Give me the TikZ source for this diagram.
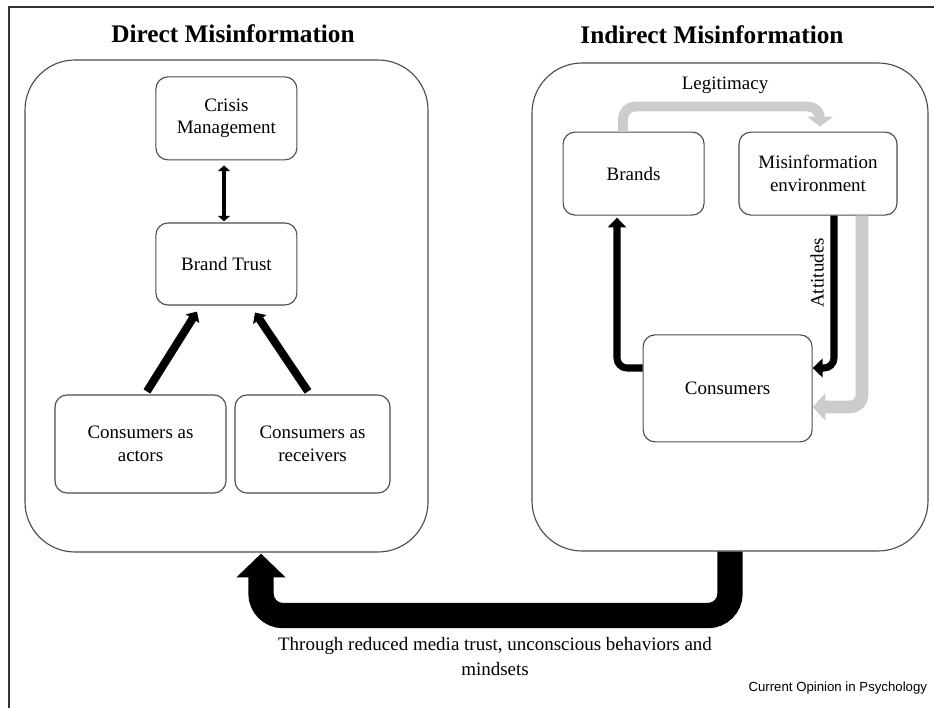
\documentclass[tikz,border=0pt]{standalone}
\usepackage{fontspec}
\setmainfont{Liberation Serif}
\newfontfamily\sourcefont{Liberation Sans}
\usepackage{tikz}
\usetikzlibrary{arrows.meta,calc}

\begin{document}
\begin{tikzpicture}[-, small box/.style={rectangle, rounded corners=0.3cm, draw=black!70, line width=0.8pt, align=center, inner sep=0pt, font=\fontsize{13.5}{16}\selectfont}, big box/.style={rectangle, rounded corners=1.25cm, draw=black!70, line width=0.8pt, inner sep=0pt}, title/.style={font=\bfseries\fontsize{18}{22}\selectfont}, label text/.style={font=\fontsize{13.5}{17.5}\selectfont, align=center}, fat arrow/.style={line width=5.7pt, -{Triangle[width=11pt,length=6pt]}}, black arrow/.style={line width=5pt, rounded corners=0.25cm, -{Triangle[width=13pt,length=7pt]}}, gray arrow/.style={black!20, line width=7pt, rounded corners=0.3cm, -{Triangle[width=18pt,length=7pt]}}, huge arrow/.style={line width=18pt, rounded corners=0.55cm, -{Triangle[width=34pt,length=17pt]}}]
\useasboundingbox (0,0) rectangle (23.35,17.7);
\draw [line width=1.2pt, black!80] (0.225,0) -- (0.225,17.525) -- (23.35,17.525);
\node[title] (t1) at (5.825,16.85) {Direct Misinformation};
\node[title] (t2) at (17.8,16.825) {Indirect Misinformation};
\node[big box, minimum width=10.075cm, minimum height=12.3cm] (direct) at (5.6625,10.05) {};
\node[big box, minimum width=9.9cm, minimum height=12.2cm] (indirect) at (18.25,10.025) {};
\node[small box, minimum width=3.525cm, minimum height=2.075cm] (crisis) at (5.66,14.74) {Crisis\\Management};
\node[small box, minimum width=3.525cm, minimum height=2.05cm] (trust) at (5.66,11.1) {Brand Trust};
\node[small box, minimum width=4.275cm, minimum height=2.45cm] (actors) at (3.5125,6.6) {Consumers as\\actors};
\node[small box, minimum width=3.875cm, minimum height=2.45cm] (receivers) at (7.8125,6.6) {Consumers as\\receivers};
\node[small box, minimum width=3.525cm, minimum height=2.075cm] (brands) at (15.84,13.36) {Brands};
\node[small box, minimum width=3.95cm, minimum height=2.075cm] (misenv) at (20.45,13.36) {Misinformation\\environment};
\node[small box, minimum width=4.225cm, minimum height=2.675cm] (consumers) at (18.19,7.99) {Consumers};
\draw [line width=2.8pt, {Triangle[width=8.5pt,length=4pt]}-{Triangle[width=8.5pt,length=4pt]}] ([xshift=-0.06cm,yshift=-0.125cm]crisis.south) -- ([xshift=-0.06cm,yshift=0.025cm]trust.north);
\draw [fat arrow] ([xshift=0.16cm,yshift=0.075cm]actors.north) -- ([xshift=-0.735cm,yshift=-0.15cm]trust.south);
\draw [fat arrow] ([xshift=-0.1125cm,yshift=0.075cm]receivers.north) -- ([xshift=0.715cm,yshift=-0.175cm]trust.south);
\draw [gray arrow] ([xshift=-0.265cm]brands.north) -- ++(0,0.625) -| ([xshift=0.05cm,yshift=0.125cm]misenv.north);
\node[label text] (legit) at (18.125,15.575) {Legitimacy};
\draw [black arrow] ([yshift=0.51cm]consumers.west) -| ([xshift=-0.415cm,yshift=-0.05cm]brands.south);
\draw [gray arrow, line width=9pt, -{Triangle[width=19pt,length=9pt]}] ([xshift=1.1cm]misenv.south) |- ([yshift=-0.465cm]consumers.east);
\draw [black arrow] ([xshift=0.4cm]misenv.south) |- ([yshift=0.51cm]consumers.east);
\node[label text, rotate=90] (att) at (20.425,10.875) {Attitudes};
\draw [huge arrow] (indirect.south) -- ++(0,-1.6) -| ([xshift=0.8625cm,yshift=-0.025cm]direct.south);
\node[label text] (through) at (12.375,1.28) {Through reduced media trust, unconscious behaviors and\\mindsets};
\node[anchor=east, font=\sourcefont\fontsize{9.4}{11}\selectfont] (source) at (23.3,0.5) {Current Opinion in Psychology};
\end{tikzpicture}
\end{document}
